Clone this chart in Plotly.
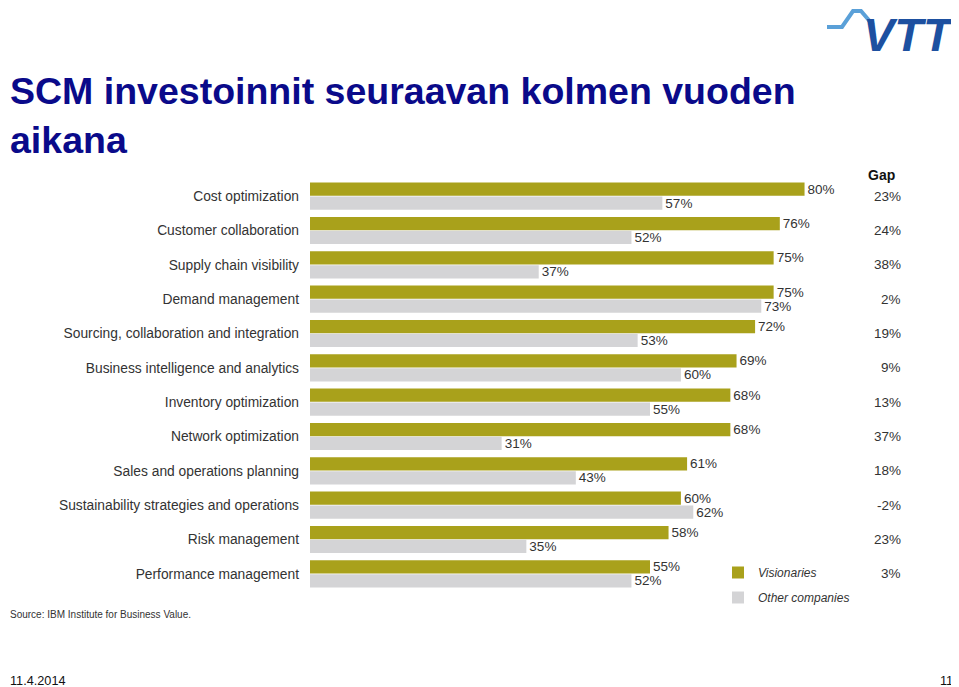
import plotly.graph_objects as go

# data
categories = [
    "Cost optimization",
    "Customer collaboration",
    "Supply chain visibility",
    "Demand management",
    "Sourcing, collaboration and integration",
    "Business intelligence and analytics",
    "Inventory optimization",
    "Network optimization",
    "Sales and operations planning",
    "Sustainability strategies and operations",
    "Risk management",
    "Performance management",
]
visionaries = [80, 76, 75, 75, 72, 69, 68, 68, 61, 60, 58, 55]
others = [57, 52, 37, 73, 53, 60, 55, 31, 43, 62, 35, 52]
gaps = ["23%", "24%", "38%", "2%", "19%", "9%", "13%", "37%", "18%", "-2%", "23%", "3%"]

# the page body has an 8px margin, so the figure is drawn 8px smaller
OFF = 8
W, H = 959 - OFF, 687 - OFF
L, R, T, B = 302, 105, 171, 96
OLIVE = "#a9a11b"
GREY = "#d4d4d6"
TXT = "#333333"
FONT = "Liberation Sans, Arial, sans-serif"


def px(x):
    # screen pixel -> paper x
    return (x - OFF - L) / (W - L - R)


def py(y):
    # screen pixel -> paper y
    return (H - B - (y - OFF)) / (H - T - B)


fig = go.Figure()
fig.add_trace(go.Bar(
    y=categories, x=visionaries, orientation="h", name="Visionaries",
    marker_color=OLIVE, text=[f"{v}%" for v in visionaries],
    textposition="outside", legendgroup="a",
))
fig.add_trace(go.Bar(
    y=categories, x=others, orientation="h", name="Other companies",
    marker_color=GREY, text=[f"{v}%" for v in others],
    textposition="outside", legendgroup="b",
))
fig.update_traces(
    textfont=dict(size=13.5, color=TXT, family=FONT),
    constraintext="none", cliponaxis=False, marker_line_width=0,
)

annotations = []
for cat, g in zip(categories, gaps):
    annotations.append(dict(
        x=px(903), xref="paper", xanchor="right", y=cat, yref="y",
        yanchor="middle", text=g, showarrow=False,
        font=dict(size=13.5, color=TXT),
    ))
annotations += [
    dict(x=px(866), y=py(175), xref="paper", yref="paper", xanchor="left",
         yanchor="middle", text="<b>Gap</b>", showarrow=False,
         font=dict(size=14, color="#111111")),
    dict(x=px(8), y=py(614), xref="paper", yref="paper", xanchor="left",
         yanchor="middle", text="Source: IBM Institute for Business Value.",
         showarrow=False, font=dict(size=10, color=TXT)),
    dict(x=px(8), y=py(681), xref="paper", yref="paper", xanchor="left",
         yanchor="middle", text="11.4.2014", showarrow=False,
         font=dict(size=12.7, color="#111111")),
    dict(x=px(955), y=py(681), xref="paper", yref="paper", xanchor="right",
         yanchor="middle", text="11", showarrow=False,
         font=dict(size=12.7, color="#111111")),
    dict(x=px(909), y=py(35), xref="paper", yref="paper", xanchor="center",
         yanchor="middle", text="<b><i>VTT</i></b>", showarrow=False,
         font=dict(size=47, color="#1d50a0")),
]

# light blue pulse of the logo
pts = [(827, 27), (842, 27), (853, 11), (861, 11), (873, 25)]
path = "M " + " L ".join(f"{px(x)},{py(y)}" for x, y in pts)
shapes = [dict(type="path", path=path, xref="paper", yref="paper",
               line=dict(color="#5aa0d8", width=4))]

fig.update_layout(
    width=W, height=H,
    margin=dict(l=L, r=R, t=T, b=B),
    paper_bgcolor="white", plot_bgcolor="white",
    font=dict(family=FONT, color=TXT),
    barmode="group", bargap=0.19, bargroupgap=0.05,
    title=dict(
        text="SCM investoinnit seuraavan kolmen vuoden<br>aikana",
        xref="container", yref="container", x=2 / W, xanchor="left",
        y=1 - 96 / H, yanchor="top",
        font=dict(size=37.5, color="#0a0a8a", family=FONT, weight="bold"),
    ),
    xaxis=dict(range=[0, 88], visible=False),
    yaxis=dict(autorange="reversed", showgrid=False, zeroline=False,
               showline=False, ticks="", ticklabelstandoff=10,
               tickfont=dict(size=13.8, color=TXT)),
    legend=dict(x=px(718), y=py(558), xanchor="left", yanchor="top",
                traceorder="grouped", tracegroupgap=6,
                font=dict(size=12, color=TXT, style="italic"),
                bgcolor="rgba(0,0,0,0)"),
    annotations=annotations, shapes=shapes,
)

fig.write_html("out.html")
